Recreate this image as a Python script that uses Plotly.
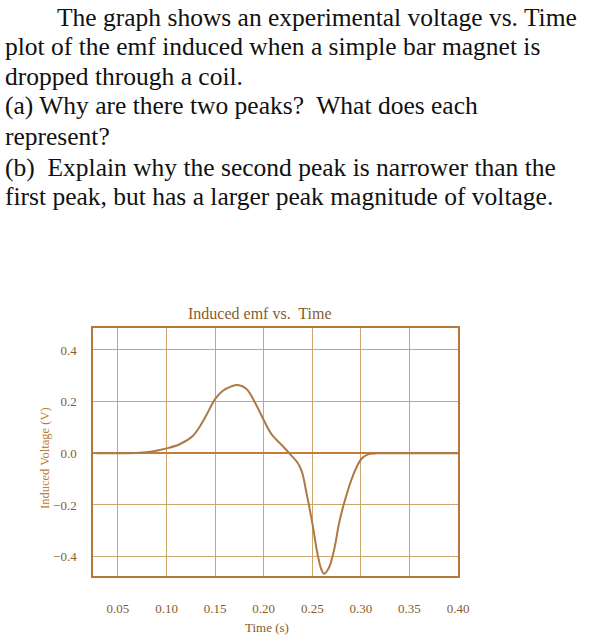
import plotly.graph_objects as go

# question text above the chart
question_lines = [
    "The graph shows an experimental voltage vs. Time",
    "plot of the emf induced when a simple bar magnet is",
    "dropped through a coil.",
    "(a) Why are there two peaks?  What does each",
    "represent?",
    "(b)  Explain why the second peak is narrower than the",
    "first peak, but has a larger peak magnitude of voltage.",
]

# induced emf curve
time_s = [0.028, 0.05, 0.072, 0.085, 0.099, 0.1135, 0.127, 0.1336, 0.1406,
          0.150, 0.158, 0.1667, 0.1735, 0.1823, 0.191, 0.1996, 0.208, 0.2188,
          0.2274, 0.236, 0.2396, 0.244, 0.25, 0.2552, 0.2594, 0.262, 0.267,
          0.2725, 0.2777, 0.2829, 0.2917, 0.3003, 0.3073, 0.317, 0.35, 0.40]
voltage_v = [0, 0, 0.002, 0.007, 0.018, 0.035, 0.067, 0.10, 0.145,
             0.21, 0.242, 0.259, 0.264, 0.249, 0.197, 0.132, 0.074, 0.031,
             -0.004, -0.043, -0.075, -0.153, -0.269, -0.386, -0.45, -0.466, -0.444,
             -0.373, -0.269, -0.191, -0.088, -0.023, -0.004, 0, 0, 0]

x_ticks = [0.05, 0.10, 0.15, 0.20, 0.25, 0.30, 0.35, 0.40]
x_tick_text = ["0.05", "0.10", "0.15", "0.20", "0.25", "0.30", "0.35", "0.40"]
y_ticks = [-0.4, -0.2, 0.0, 0.2, 0.4]
y_tick_text = ["\u22120.4", "\u22120.2", "0.0", "0.2", "0.4"]

W, H = 591, 638
L, R, T, B = 93, 133, 328, 62
PW, PH = W - L - R, H - T - B


def px(x):
    # reference pixel -> paper x
    return (x - L) / PW


def py(y):
    # reference pixel -> paper y
    return (H - B - y) / PH


SERIF = "Liberation Serif, Times New Roman, serif"
GRID = "rgb(207,163,110)"
FRAME = "rgb(180,120,60)"
CURVE = "rgb(172,122,70)"
LABEL = "rgb(135,92,45)"

fig = go.Figure()
fig.add_trace(go.Scatter(
    x=time_s, y=voltage_v, mode="lines",
    line=dict(color=CURVE, width=2, shape="spline", smoothing=1.0),
    showlegend=False, hoverinfo="skip",
))

annotations = []
baselines = [25, 54, 84, 114, 144, 175, 205]
for i, (line, base) in enumerate(zip(question_lines, baselines)):
    annotations.append(dict(
        text=line, x=px(55 if i == 0 else 3), y=py(base - 8),
        xref="paper", yref="paper", xanchor="left", yanchor="middle",
        showarrow=False, font=dict(family=SERIF, size=25.5, color="#111111"),
    ))

annotations.append(dict(
    text="Induced emf vs.  Time", x=px(260), y=py(313),
    xref="paper", yref="paper", xanchor="center", yanchor="middle",
    showarrow=False, font=dict(family=SERIF, size=16, color=LABEL),
))
annotations.append(dict(
    text="Induced Voltage (V)", x=px(45), y=py(458), textangle=-90,
    xref="paper", yref="paper", xanchor="center", yanchor="middle",
    showarrow=False, font=dict(family=SERIF, size=12.5, color="rgb(185,125,60)"),
))
annotations.append(dict(
    text="Time (s)", x=px(267), y=py(627),
    xref="paper", yref="paper", xanchor="center", yanchor="middle",
    showarrow=False, font=dict(family=SERIF, size=13, color=LABEL),
))

fig.update_layout(
    width=W, height=H,
    margin=dict(l=L, r=R, t=T, b=B),
    paper_bgcolor="white", plot_bgcolor="white",
    annotations=annotations,
    xaxis=dict(
        range=[0.0243, 0.40], tickvals=x_ticks, ticktext=x_tick_text,
        showgrid=True, gridcolor=GRID, gridwidth=1, zeroline=False,
        showline=True, linecolor=FRAME, linewidth=1.5, mirror=True,
        ticks="", ticklabelstandoff=20,
        tickfont=dict(family=SERIF, size=13, color=LABEL),
    ),
    yaxis=dict(
        range=[-0.475, 0.485], tickvals=y_ticks, ticktext=y_tick_text,
        showgrid=True, gridcolor=GRID, gridwidth=1,
        zeroline=True, zerolinecolor="rgb(195,125,55)", zerolinewidth=2,
        showline=True, linecolor=FRAME, linewidth=1.5, mirror=True,
        ticks="", ticklabelstandoff=12,
        tickfont=dict(family=SERIF, size=13, color=LABEL),
    ),
)

# drop the default 8px body margin so the figure fills the window
fig.write_html(
    "out.html",
    config={"displayModeBar": False},
    post_script="document.body.style.margin='0';",
)
